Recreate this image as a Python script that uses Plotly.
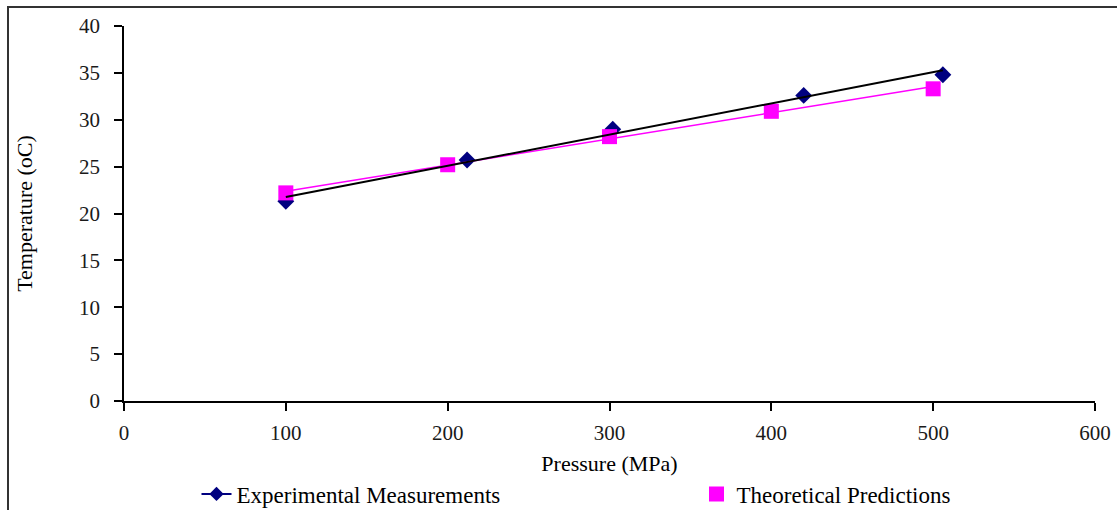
import numpy as np
import plotly.graph_objects as go

exp_pressure = [100, 212, 302, 420, 506]
exp_temp = [21.3, 25.7, 29.0, 32.6, 34.8]
theo_pressure = [100, 200, 300, 400, 500]
theo_temp = [22.2, 25.2, 28.2, 30.9, 33.3]

x_ticks = [0, 100, 200, 300, 400, 500, 600]
y_ticks = [0, 5, 10, 15, 20, 25, 30, 35, 40]

FONT = "Liberation Serif"

fig = go.Figure()

fig.add_trace(go.Scatter(
    x=exp_pressure, y=exp_temp, mode="markers",
    name="Experimental Measurements",
    marker=dict(symbol="diamond", size=13, color="#000080"),
    showlegend=False,
))
# legend-only entry for experimental (navy line + diamond)
fig.add_trace(go.Scatter(
    x=[None], y=[None], mode="lines+markers",
    name="Experimental Measurements",
    line=dict(color="#000080", width=2),
    marker=dict(symbol="diamond", size=11, color="#000080"),
    legend="legend",
))
fig.add_trace(go.Scatter(
    x=theo_pressure, y=theo_temp, mode="markers",
    name="Theoretical Predictions",
    marker=dict(symbol="square", size=15, color="#FF00FF"),
    legend="legend2",
))

# linear trend lines
pt = np.polyfit(theo_pressure, theo_temp, 1)
xt = np.array([theo_pressure[0], theo_pressure[-1]])
fig.add_trace(go.Scatter(x=xt, y=np.polyval(pt, xt), mode="lines",
                         line=dict(color="#FF00FF", width=1.5), showlegend=False,
                         hoverinfo="skip"))
pe = np.polyfit(exp_pressure, exp_temp, 1)
xe = np.array([exp_pressure[0], exp_pressure[-1]])
fig.add_trace(go.Scatter(x=xe, y=np.polyval(pe, xe), mode="lines",
                         line=dict(color="black", width=2), showlegend=False,
                         hoverinfo="skip"))

axis_common = dict(
    showgrid=False, zeroline=False, showline=True, linecolor="black", linewidth=1.5,
    ticks="outside", ticklen=8, tickcolor="black", tickwidth=1.5,
    tickfont=dict(family=FONT, size=21, color="#1a1a1a"),
)

legend_common = dict(orientation="h", xanchor="left", yanchor="middle",
                     y=(401 - 494) / 375, font=dict(family=FONT, size=23),
                     bgcolor="rgba(0,0,0,0)")

fig.update_layout(
    width=1117, height=510,
    margin=dict(l=124, r=22, t=26, b=109, autoexpand=False),
    paper_bgcolor="white", plot_bgcolor="white",
    font=dict(family=FONT, color="black"),
    xaxis=dict(range=[0, 600], tickvals=x_ticks, ticklabelstandoff=4, **axis_common,
               title=dict(text="Pressure (MPa)", font=dict(family=FONT, size=22), standoff=12)),
    yaxis=dict(range=[0, 40], tickvals=y_ticks, ticklabelstandoff=10, **axis_common,
               title=dict(text="Temperature (oC)", font=dict(family=FONT, size=22), standoff=40)),
    legend=dict(x=(237 - 40.5 - 124) / 971, **legend_common),
    legend2=dict(x=(737 - 40.5 - 124) / 971, **legend_common),
    shapes=[dict(type="rect", xref="paper", yref="paper",
                 x0=(8 - 124) / 971, x1=(1125 - 124) / 971,
                 y0=(401 - 520) / 375, y1=(401 - 7) / 375,
                 line=dict(color="#333333", width=2), fillcolor="rgba(0,0,0,0)", layer="below")],
)

fig.write_html("out.html")
